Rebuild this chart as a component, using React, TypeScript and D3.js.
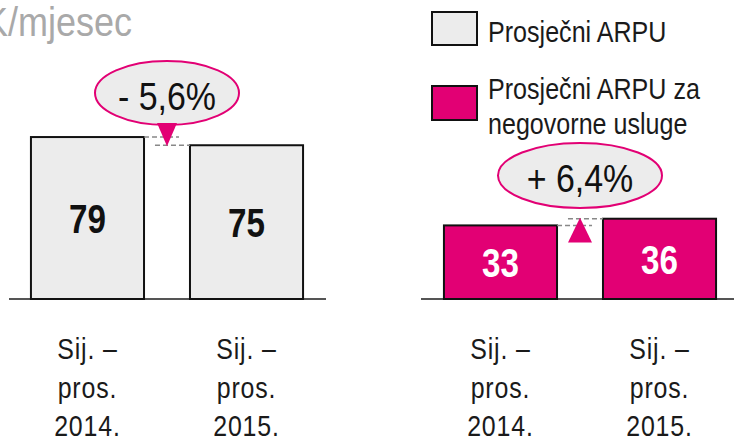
import React from "react";
import * as d3 from "d3";

const categories = ["Sij. – pros. 2014.", "Sij. – pros. 2015."];
const categoryLines = [
  ["Sij. –", "pros.", "2014."],
  ["Sij. –", "pros.", "2015."],
];
const arpuValues = [79, 75];
const voiceArpuValues = [33, 36];
const changeLabels = ["- 5,6%", "+ 6,4%"];
const legendItems = [["Prosječni ARPU"], ["Prosječni ARPU za", "negovorne usluge"]];
const titleText = "HRK/mjesec";

const W = 734;
const H = 439;
const MAGENTA = "#e20074";
const GREY = "#ececec";
const FONT = "'Liberation Sans', Arial, sans-serif";
const BASE = 299;

type TProps = {
  x: number;
  y: number;
  sx?: number;
  anchor?: "start" | "middle" | "end";
  size: number;
  fill?: string;
  weight?: string | number;
  spacing?: number;
  children: React.ReactNode;
};

function T({ x, y, sx = 0.85, anchor = "start", size, fill = "#1a1a1a", weight = "normal", spacing = 0, children }: TProps) {
  return (
    <text
      transform={`translate(${x},${y}) scale(${sx},1)`}
      textAnchor={anchor}
      fontFamily={FONT}
      fontSize={size}
      fontWeight={weight}
      letterSpacing={spacing}
      fill={fill}
    >
      {children}
    </text>
  );
}

type PanelProps = {
  values: number[];
  range: [number, number];
  perUnit: number;
  fill: string;
  textFill: string;
  change: string;
  ellipse: { cy: number; rx: number; ry: number; ty: number };
  up: boolean;
  lineRange: [number, number];
};

function Panel({ values, range, perUnit, fill, textFill, change, ellipse, up, lineRange }: PanelProps) {
  const x = d3.scaleBand<string>().domain(categories).range(range).paddingInner(0.289).paddingOuter(0.138);
  const y = d3.scaleLinear().domain([0, 100]).range([BASE, BASE - 100 * perUnit]);
  const bw = x.bandwidth();
  const x0 = x(categories[0])!;
  const x1 = x(categories[1])!;
  const gapL = x0 + bw;
  const gapR = x1;
  const cx = (gapL + gapR) / 2;
  const y0 = y(values[0]);
  const y1 = y(values[1]);
  const tri = up
    ? `M${cx - 12},${y0 + 17} L${cx + 12},${y0 + 17} L${cx},${y1 - 1} Z`
    : `M${cx - 10},${ellipse.cy + ellipse.ry - 2} L${cx + 10},${ellipse.cy + ellipse.ry - 2} L${cx},${y1 + 1} Z`;
  return (
    <g>
      <line x1={lineRange[0]} x2={lineRange[1]} y1={BASE} y2={BASE} stroke="#555" strokeWidth={2} />
      {values.map((v, i) => {
        const bx = x(categories[i])!;
        return (
          <g key={i}>
            <rect x={bx} y={y(v)} width={bw} height={BASE - y(v)} fill={fill} stroke="#111" strokeWidth={2} />
            <T x={bx + bw / 2} y={(y(v) + BASE) / 2 + 15} anchor="middle" size={40} weight="bold" sx={0.83} fill={textFill}>
              {v}
            </T>
            {categoryLines[i].map((ln, j) => (
              <T key={j} x={bx + bw / 2} y={359 + j * 38.5} anchor="middle" size={29} sx={0.86} spacing={1}>
                {ln}
              </T>
            ))}
          </g>
        );
      })}
      <line x1={gapL} x2={gapL + 35} y1={y0} y2={y0} stroke="#888" strokeWidth={1.5} strokeDasharray="5,3" />
      <line x1={gapR - 35} x2={gapR} y1={y1} y2={y1} stroke="#888" strokeWidth={1.5} strokeDasharray="5,3" />
      <ellipse cx={cx} cy={ellipse.cy} rx={ellipse.rx} ry={ellipse.ry} fill={GREY} stroke={MAGENTA} strokeWidth={2} />
      <path d={tri} fill={MAGENTA} />
      <T x={cx} y={ellipse.ty} anchor="middle" size={39} sx={0.87} fill="#111">
        {change}
      </T>
    </g>
  );
}

export default function App() {
  return (
    <svg width={W} height={H} style={{ position: "absolute", left: 0, top: 0, background: "#fff" }}>
      <T x={132} y={36} anchor="end" size={40} sx={0.9} fill="#a9a9a9">
        {titleText}
      </T>
      <Panel
        values={arpuValues}
        range={[9, 325]}
        perUnit={2.05}
        fill={GREY}
        textFill="#111"
        change={changeLabels[0]}
        ellipse={{ cy: 93, rx: 72, ry: 32, ty: 110 }}
        up={false}
        lineRange={[9, 326]}
      />
      <Panel
        values={voiceArpuValues}
        range={[422, 738]}
        perUnit={2.23}
        fill={MAGENTA}
        textFill="#fff"
        change={changeLabels[1]}
        ellipse={{ cy: 175.5, rx: 82, ry: 32.5, ty: 192 }}
        up={true}
        lineRange={[421, 734]}
      />
      {legendItems.map((lines, i) => (
        <g key={i}>
          <rect
            x={432}
            y={i === 0 ? 12 : 86}
            width={45}
            height={i === 0 ? 33 : 34}
            fill={i === 0 ? GREY : MAGENTA}
            stroke="#111"
            strokeWidth={2}
          />
          {lines.map((ln, j) => (
            <T key={j} x={488} y={(i === 0 ? 42 : 99) + j * 35} size={29} sx={0.865}>
              {ln}
            </T>
          ))}
        </g>
      ))}
    </svg>
  );
}
